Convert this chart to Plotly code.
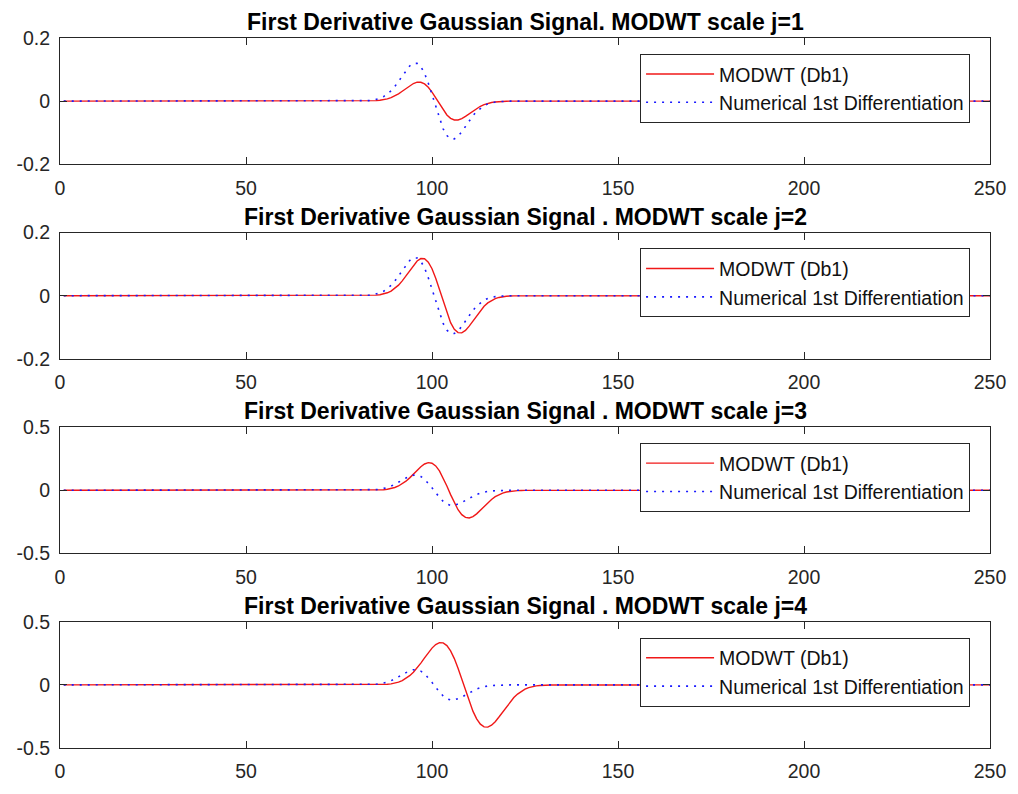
import plotly.graph_objects as go

# Sample index of the first value in each series; series are zero outside the listed window
N_SAMPLES = 256

# Numerical first difference of the Gaussian pulse (same curve in every panel)
diff_start = 80
diff_vals = [0.0002, 0.0004, 0.0008, 0.0016, 0.0029, 0.0051, 0.0087, 0.0142, 0.0221, 0.0328,
             0.0464, 0.0626, 0.0801, 0.0973, 0.1114, 0.1198, 0.1196, 0.1091, 0.0879, 0.0571,
             0.0198, -0.0198, -0.0571, -0.0879, -0.1091, -0.1196, -0.1198, -0.1114, -0.0973,
             -0.0801, -0.0626, -0.0464, -0.0328, -0.0221, -0.0142, -0.0087, -0.0051, -0.0029,
             -0.0016, -0.0008, -0.0004, -0.0002]

# MODWT (Db1) wavelet coefficients, levels 1..4
modwt_j1_start = 81
modwt_j1 = [0.0001, 0.0002, 0.0004, 0.0008, 0.0014, 0.0026, 0.0044, 0.0071, 0.0110, 0.0164,
            0.0232, 0.0313, 0.0401, 0.0486, 0.0557, 0.0599, 0.0598, 0.0546, 0.0439, 0.0285,
            0.0099, -0.0099, -0.0285, -0.0439, -0.0546, -0.0598, -0.0599, -0.0557, -0.0486,
            -0.0401, -0.0313, -0.0232, -0.0164, -0.0110, -0.0071, -0.0044, -0.0026, -0.0014,
            -0.0008, -0.0004, -0.0002, -0.0001]

modwt_j2_start = 83
modwt_j2 = [0.0004, 0.0009, 0.0017, 0.0031, 0.0055, 0.0092, 0.0148, 0.0228, 0.0335, 0.0470,
            0.0629, 0.0800, 0.0965, 0.1100, 0.1177, 0.1170, 0.1064, 0.0855, 0.0555, 0.0192,
            -0.0192, -0.0555, -0.0855, -0.1064, -0.1170, -0.1177, -0.1100, -0.0965, -0.0800,
            -0.0629, -0.0470, -0.0335, -0.0228, -0.0148, -0.0092, -0.0055, -0.0031, -0.0017,
            -0.0009, -0.0004]

modwt_j3_start = 84
modwt_j3 = [0.0007, 0.0014, 0.0026, 0.0047, 0.0082, 0.0137, 0.0222, 0.0343, 0.0509, 0.0724,
            0.0985, 0.1280, 0.1585, 0.1868, 0.2085, 0.2191, 0.2148, 0.1930, 0.1536, 0.0991,
            0.0342, -0.0342, -0.0991, -0.1536, -0.1930, -0.2148, -0.2191, -0.2085, -0.1868,
            -0.1585, -0.1280, -0.0985, -0.0724, -0.0509, -0.0343, -0.0222, -0.0137, -0.0082,
            -0.0047, -0.0026, -0.0014, -0.0007]

modwt_j4_start = 85
modwt_j4 = [0.0007, 0.0014, 0.0027, 0.0048, 0.0082, 0.0137, 0.0220, 0.0340, 0.0506, 0.0727,
            0.1006, 0.1343, 0.1727, 0.2138, 0.2547, 0.2914, 0.3195, 0.3345, 0.3326, 0.3112,
            0.2693, 0.2083, 0.1318, 0.0451, -0.0451, -0.1318, -0.2083, -0.2693, -0.3112,
            -0.3326, -0.3345, -0.3195, -0.2914, -0.2547, -0.2138, -0.1727, -0.1343, -0.1006,
            -0.0727, -0.0506, -0.0340, -0.0220, -0.0137, -0.0082, -0.0048, -0.0027, -0.0014,
            -0.0007]

titles = ["First Derivative Gaussian Signal. MODWT scale j=1",
          "First Derivative Gaussian Signal . MODWT scale j=2",
          "First Derivative Gaussian Signal . MODWT scale j=3",
          "First Derivative Gaussian Signal . MODWT scale j=4"]
y_limits = [0.2, 0.2, 0.5, 0.5]
x_ticks = [0, 50, 100, 150, 200, 250]
legend_names = ["MODWT (Db1)", "Numerical 1st Differentiation"]

modwt_series = [(modwt_j1_start, modwt_j1), (modwt_j2_start, modwt_j2),
                (modwt_j3_start, modwt_j3), (modwt_j4_start, modwt_j4)]


def full_series(start, vals):
    """Pad a windowed series with its zero-valued ends at samples 1 and N."""
    xs = [1] + list(range(start, start + len(vals))) + [N_SAMPLES]
    ys = [0.0] + list(vals) + [0.0]
    return xs, ys


FONT = "Liberation Sans, Arial, Helvetica, sans-serif"
AX_COLOR = "#262626"
TICK_SIZE = 19.5

# Pixel layout of the four stacked axes
W, H = 1018, 794
M_L, M_R, M_T, M_B = 60, 25, 38, 36
plot_h = H - M_T - M_B
ax_h = 128
gap = (plot_h - 4 * ax_h) / 3

fig = go.Figure()
layout = dict(
    width=W, height=H,
    margin=dict(l=M_L, r=M_R, t=M_T, b=M_B),
    paper_bgcolor="white", plot_bgcolor="white",
    font=dict(family=FONT, size=TICK_SIZE, color=AX_COLOR),
    annotations=[],
)

for i in range(4):
    k = i + 1
    suffix = "" if k == 1 else str(k)
    top_px = i * (ax_h + gap)
    y_top = 1 - top_px / plot_h
    y_bot = 1 - (top_px + ax_h) / plot_h
    legend_key = "legend" if k == 1 else f"legend{k}"

    xs, ys = full_series(*modwt_series[i])
    fig.add_trace(go.Scatter(
        x=xs, y=ys, mode="lines", name=legend_names[0],
        line=dict(color="#f01818", width=1.4),
        xaxis=f"x{suffix}", yaxis=f"y{suffix}", legend=legend_key,
    ))
    xs, ys = full_series(diff_start, diff_vals)
    fig.add_trace(go.Scatter(
        x=xs, y=ys, mode="lines", name=legend_names[1],
        line=dict(color="#1a1aff", width=1.6, dash="2px,6px"),
        xaxis=f"x{suffix}", yaxis=f"y{suffix}", legend=legend_key,
    ))

    lim = y_limits[i]
    layout[f"xaxis{suffix}"] = dict(
        domain=[0, 1], anchor=f"y{suffix}", range=[0, 250],
        tickmode="array", tickvals=x_ticks, ticktext=[str(v) for v in x_ticks],
        ticks="inside", ticklen=7, tickcolor=AX_COLOR, tickwidth=1,
        showline=True, linecolor=AX_COLOR, linewidth=1, mirror="allticks",
        showgrid=False, zeroline=False, ticklabelstandoff=6,
        tickfont=dict(size=TICK_SIZE, color=AX_COLOR, family=FONT),
    )
    layout[f"yaxis{suffix}"] = dict(
        domain=[y_bot, y_top], anchor=f"x{suffix}", range=[-lim, lim],
        tickmode="array", tickvals=[-lim, 0, lim],
        ticktext=[f"-{lim:g}", "0", f"{lim:g}"],
        ticks="inside", ticklen=7, tickcolor=AX_COLOR, tickwidth=1,
        showline=True, linecolor=AX_COLOR, linewidth=1, mirror="allticks",
        showgrid=False, zeroline=False, ticklabelstandoff=5,
        tickfont=dict(size=TICK_SIZE, color=AX_COLOR, family=FONT),
    )
    layout[legend_key] = dict(
        x=(973 - M_L) / (W - M_L - M_R), xanchor="right",
        y=y_top - 16 / plot_h, yanchor="top",
        bgcolor="white", bordercolor=AX_COLOR, borderwidth=1,
        font=dict(family=FONT, size=19.5, color="#111111"),
        itemwidth=68, tracegroupgap=0,
    )
    layout["annotations"].append(dict(
        text=f"<b>{titles[i]}</b>", xref="paper", yref="paper",
        x=0.5, y=y_top, xanchor="center", yanchor="bottom", yshift=1,
        showarrow=False, font=dict(family=FONT, size=23, color="#000000"),
    ))

fig.update_layout(**layout)
fig.write_html("out.html")
